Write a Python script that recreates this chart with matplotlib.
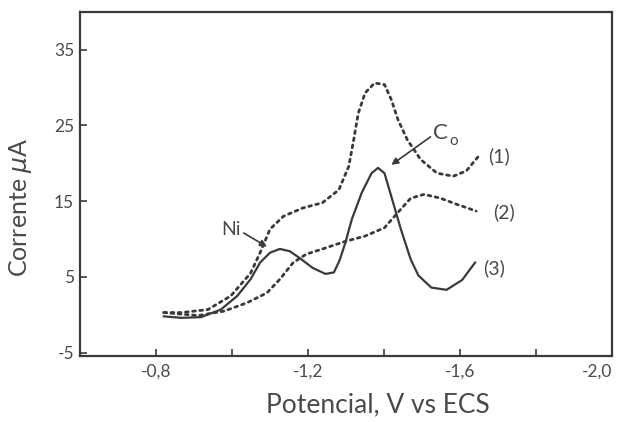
import matplotlib
matplotlib.use("Agg")
import matplotlib.pyplot as plt

plt.rcParams['font.family'] = ['Lato', 'DejaVu Sans']

# Data (potential in V vs ECS, current in uA)
v1 = [-0.821, -0.868, -0.937, -0.997, -1.049, -1.074, -1.100, -1.135, -1.186, -1.238,
      -1.281, -1.307, -1.320, -1.332, -1.350, -1.375, -1.401, -1.419, -1.436, -1.461,
      -1.496, -1.539, -1.582, -1.616, -1.651]
i1 = [0.3, 0.3, 0.7, 2.5, 5.5, 8.2, 11.3, 13.0, 14.1, 14.8,
      16.5, 19.6, 23.1, 26.6, 29.3, 30.6, 30.4, 28.4, 25.8, 23.1,
      20.5, 18.7, 18.3, 19.0, 21.1]

v2 = [-0.821, -0.911, -0.980, -1.040, -1.092, -1.126, -1.161, -1.195, -1.238, -1.298,
      -1.350, -1.401, -1.436, -1.470, -1.505, -1.548, -1.590, -1.642]
i2 = [0.3, -0.1, 0.5, 1.6, 2.9, 4.7, 6.9, 8.0, 8.7, 9.7,
      10.4, 11.5, 13.5, 15.4, 15.9, 15.4, 14.6, 13.7]

v3 = [-0.821, -0.868, -0.919, -0.971, -1.014, -1.049, -1.074, -1.100, -1.126, -1.152,
      -1.178, -1.212, -1.246, -1.268, -1.283, -1.298, -1.315, -1.341, -1.367, -1.384,
      -1.401, -1.419, -1.444, -1.470, -1.490, -1.524, -1.564, -1.605, -1.639]
i3 = [-0.2, -0.4, -0.3, 0.7, 2.5, 4.7, 6.9, 8.2, 8.7, 8.4,
      7.5, 6.2, 5.4, 5.6, 7.2, 9.5, 12.6, 16.1, 18.7, 19.4,
      18.7, 15.6, 11.3, 7.3, 5.2, 3.6, 3.3, 4.6, 6.9]

xticks = [-0.8, -1.2, -1.6, -2.0]
xtick_labels = ['-0,8', '-1,2', '-1,6', '-2,0']
xminor = [-1.0, -1.4, -1.8]
yticks = [-5, 5, 15, 25, 35]
ytick_labels = ['-5', '5', '15', '25', '35']

ink = '#3a3a3a'
txt = '#4a4a4a'

fig = plt.figure(figsize=(6.18, 4.22), dpi=100)
ax = fig.add_axes([0.129, 0.157, 0.862, 0.815])

ax.plot(v1, i1, color=ink, lw=2.0, linestyle=(0, (1, 1.6)), dash_capstyle='round')
ax.plot(v2, i2, color=ink, lw=2.0, linestyle=(0, (1, 1.6)), dash_capstyle='round')
ax.plot(v3, i3, color=ink, lw=1.6, solid_joinstyle='round')

ax.set_xlim(-0.6, -2.0)
ax.set_ylim(-5.4, 40)

ax.set_xticks(xticks)
ax.set_xticklabels(xtick_labels)
ax.get_xticklabels()[-1].set_horizontalalignment('right')
ax.set_xticks(xminor, minor=True)
ax.set_yticks(yticks)
ax.set_yticklabels(ytick_labels)

ax.tick_params(axis='both', which='both', direction='in', length=5, width=1.2,
               color=ink, labelcolor=txt, labelsize=12.5)
ax.tick_params(axis='x', pad=6)
ax.tick_params(axis='y', pad=4)
for s in ax.spines.values():
    s.set_color(ink)
    s.set_linewidth(1.6)

ax.set_xlabel('Potencial, V vs ECS', fontsize=19, color=txt, va='center', ha='center')
ax.xaxis.set_label_coords(0.559, -0.142)
ax.set_ylabel(r'Corrente $\mu$A', fontsize=18, color=txt, va='center', ha='center')
ax.yaxis.set_label_coords(-0.111, 0.433)

# annotations
ax.annotate('', xy=(-1.092, 9.0), xytext=(-1.031, 10.8),
            arrowprops=dict(arrowstyle='-|>', color=ink, lw=1.2, mutation_scale=10,
                            shrinkA=0, shrinkB=0))
ax.text(-0.997, 11.3, 'Ni', fontsize=14, color=txt, ha='center', va='center')

ax.annotate('', xy=(-1.419, 19.8), xytext=(-1.522, 23.5),
            arrowprops=dict(arrowstyle='-|>', color=ink, lw=1.2, mutation_scale=10,
                            shrinkA=0, shrinkB=0))
ax.text(-1.548, 24.0, 'C', fontsize=16, color=txt, ha='center', va='center')
ax.text(-1.582, 23.0, 'o', fontsize=11, color=txt, ha='center', va='center')

ax.text(-1.703, 20.9, '(1)', fontsize=14, color=txt, ha='center', va='center')
ax.text(-1.716, 13.6, '(2)', fontsize=14, color=txt, ha='center', va='center')
ax.text(-1.69, 6.2, '(3)', fontsize=14, color=txt, ha='center', va='center')

fig.savefig('out.png', dpi=100)
